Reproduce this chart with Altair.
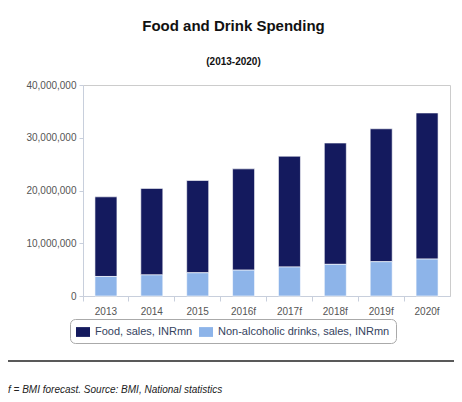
import altair as alt
import pandas as pd

years = ["2013", "2014", "2015", "2016f", "2017f", "2018f", "2019f", "2020f"]
food = [15.1e6, 16.4e6, 17.5e6, 19.2e6, 21.0e6, 23.0e6, 25.2e6, 27.7e6]
drinks = [3.7e6, 4.0e6, 4.4e6, 4.9e6, 5.5e6, 6.0e6, 6.5e6, 7.0e6]
series = ["Food, sales, INRmn", "Non-alcoholic drinks, sales, INRmn"]
colors = ["#141A5E", "#8DB4E9"]
y_ticks = [0, 10e6, 20e6, 30e6, 40e6]
title_text = "Food and Drink Spending"
subtitle_text = "(2013-2020)"
footnote = ["f = BMI forecast. Source: BMI, National statistics"]

FONT = "Liberation Sans"

rows = []
for i, yr in enumerate(years):
    rows.append({"year": yr, "series": series[0], "value": food[i], "ord": 2})
    rows.append({"year": yr, "series": series[1], "value": drinks[i], "ord": 1})
df = pd.DataFrame(rows)

axis_col = "#c8cfdc"

bars = alt.Chart(df).mark_bar(size=22, stroke="white", strokeWidth=0.6).encode(
    x=alt.X(
        "year:N",
        sort=years,
        scale=alt.Scale(paddingInner=0, paddingOuter=0),
        axis=alt.Axis(
            title=None, labelAngle=0, bandPosition=0,
            domainColor=axis_col, tickColor=axis_col, tickSize=5,
            labelPadding=5, labelColor="#555", labelFontSize=10, labelFont=FONT,
        ),
    ),
    y=alt.Y(
        "value:Q",
        stack="zero",
        scale=alt.Scale(domain=[0, 40e6]),
        axis=alt.Axis(
            values=y_ticks, format=",d", title=None, grid=False,
            domainColor=axis_col, tickColor=axis_col, tickSize=4,
            labelPadding=3, labelColor="#555", labelFontSize=10, labelFont=FONT,
        ),
    ),
    color=alt.Color(
        "series:N",
        scale=alt.Scale(domain=series, range=colors),
        legend=alt.Legend(
            orient="none", legendX=-13, legendY=234, direction="horizontal",
            title=None, symbolType="M-1,-0.7H1V0.7H-1Z", symbolSize=196,
            symbolStrokeWidth=0, labelFontSize=11, labelFont=FONT,
            labelColor="#34435e", strokeColor="#aaaaaa", cornerRadius=5,
            padding=6, columnPadding=6, labelOffset=5, labelLimit=400,
            fillColor="white",
        ),
    ),
    order=alt.Order("ord:Q"),
)

note_df = pd.DataFrame({"note": footnote})
rule = alt.Chart(note_df).mark_rule(color="#222", strokeWidth=1.5).encode(
    x=alt.value(-75), x2=alt.value(371), y=alt.value(276)
)
note = alt.Chart(note_df).mark_text(
    align="left", baseline="middle", fontStyle="italic", fontSize=10,
    font=FONT, color="#222",
).encode(x=alt.value(-75), y=alt.value(305), text="note:N")

chart = alt.layer(bars, rule, note).properties(
    width=367,
    height=211,
    padding={"left": 75, "top": 77, "right": 4, "bottom": 102},
    autosize="none",
    title=alt.TitleParams(
        text=title_text, subtitle=subtitle_text, fontSize=15, subtitleFontSize=10,
        font=FONT, subtitleFont=FONT, fontWeight="bold", subtitleFontWeight="bold",
        color="#111", subtitleColor="#111", anchor="middle", offset=13,
        subtitlePadding=23, dx=-33,
    ),
).configure_view(stroke="#cccccc")

chart.save("out.html", embed_options={"renderer": "svg", "actions": False})
